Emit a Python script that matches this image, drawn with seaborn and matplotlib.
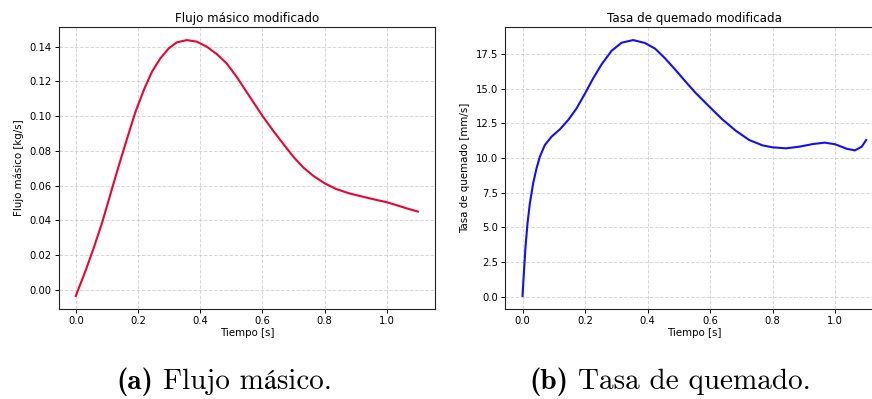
import matplotlib
matplotlib.use("Agg")
import matplotlib.pyplot as plt
from matplotlib.offsetbox import TextArea, HPacker, AnnotationBbox
import seaborn as sns
import pandas as pd

# Mass flow vs time
t_flujo = [0.0, 0.032, 0.0587, 0.0853, 0.112, 0.1387, 0.165, 0.192, 0.2187, 0.245,
           0.272, 0.2987, 0.325, 0.357, 0.389, 0.421, 0.453, 0.485, 0.517, 0.56,
           0.6, 0.635, 0.668, 0.7, 0.7316, 0.7636, 0.8, 0.8385, 0.881, 0.924,
           0.967, 1.0, 1.031, 1.063, 1.1]
flujo = [-0.0036, 0.0112, 0.0246, 0.039, 0.0554, 0.0717, 0.0871, 0.1025, 0.115, 0.1256,
         0.1333, 0.139, 0.1425, 0.1438, 0.1429, 0.14, 0.1358, 0.1304, 0.1227, 0.111,
         0.1002, 0.0915, 0.0838, 0.0765, 0.0704, 0.0656, 0.0613, 0.0579, 0.0554, 0.0535,
         0.0517, 0.0504, 0.0487, 0.0469, 0.045]

# Burn rate vs time
t_tasa = [0.0, 0.0043, 0.0096, 0.016, 0.0235, 0.034, 0.0448, 0.0555, 0.0715, 0.0928,
          0.1195, 0.146, 0.1728, 0.2, 0.226, 0.253, 0.285, 0.3168, 0.354, 0.3915,
          0.4237, 0.456, 0.488, 0.52, 0.553, 0.6, 0.639, 0.682, 0.725, 0.768,
          0.8, 0.843, 0.886, 0.929, 0.967, 1.0, 1.0366, 1.063, 1.085, 1.099]
tasa = [0.05, 1.68, 3.6, 5.29, 6.73, 8.17, 9.25, 10.1, 10.94, 11.54,
        12.07, 12.74, 13.58, 14.66, 15.75, 16.76, 17.74, 18.32, 18.51, 18.3,
        17.9, 17.19, 16.39, 15.55, 14.71, 13.65, 12.79, 11.97, 11.3, 10.91,
        10.77, 10.7, 10.82, 11.01, 11.11, 10.99, 10.67, 10.55, 10.82, 11.3]

titulos = ["Flujo másico modificado", "Tasa de quemado modificada"]
etiquetas_y = ["Flujo másico [kg/s]", "Tasa de quemado [mm/s]"]
etiqueta_x = "Tiempo [s]"
letras = ["(a)", "(b)"]
subtitulos = ["Flujo másico.", "Tasa de quemado."]

plt.rcParams["font.family"] = ["DejaVu Sans"]

df_flujo = pd.DataFrame({"t": t_flujo, "v": flujo})
df_tasa = pd.DataFrame({"t": t_tasa, "v": tasa})

fig = plt.figure(figsize=(8.72, 3.99), dpi=100)
ax1 = fig.add_axes([0.0673, 0.2263, 0.4315, 0.7053])
ax2 = fig.add_axes([0.5795, 0.2263, 0.4335, 0.7053])

series = [(ax1, df_flujo, "#e8062f"), (ax2, df_tasa, "#1010f0")]
for i, (ax, df, color) in enumerate(series):
    sns.lineplot(data=df, x="t", y="v", ax=ax, color=color, linewidth=1.5, sort=False)
    ax.set_title(titulos[i], fontsize=8.6, pad=4)
    ax.set_xlabel(etiqueta_x, fontsize=7.4, labelpad=2)
    ax.set_ylabel(etiquetas_y[i], fontsize=7.4, labelpad=4)
    ax.tick_params(labelsize=7.2, length=3, width=0.7, pad=2)
    ax.grid(True, linestyle="--", color="#b0b0b0", alpha=0.5, linewidth=0.7)
    for s in ax.spines.values():
        s.set_linewidth(0.8)
        s.set_color("#222222")
    ax.set_xticks([0.0, 0.2, 0.4, 0.6, 0.8, 1.0])

ax1.set_yticks([0.0, 0.02, 0.04, 0.06, 0.08, 0.10, 0.12, 0.14])
ax1.set_yticklabels([f"{v:.2f}" for v in ax1.get_yticks()])
ax2.set_yticks([0.0, 2.5, 5.0, 7.5, 10.0, 12.5, 15.0, 17.5])
ax2.set_yticklabels([f"{v:.1f}" for v in ax2.get_yticks()])
for ax in (ax1, ax2):
    ax.set_xticklabels([f"{v:.1f}" for v in ax.get_xticks()])

# Sub-figure captions: bold letter followed by the roman caption text
for letra, texto, xc in zip(letras, subtitulos, [0.257, 0.768]):
    parte_a = TextArea(letra, textprops=dict(family=["cmb10"], size=21))
    parte_b = TextArea(texto, textprops=dict(family=["cmr10", "STIXGeneral"], size=21))
    caja = HPacker(children=[parte_a, parte_b], align="baseline", pad=0, sep=7)
    ab = AnnotationBbox(caja, (xc, 0.044), xycoords="figure fraction",
                        box_alignment=(0.5, 0.5), frameon=False)
    fig.add_artist(ab)

fig.savefig("out.png", dpi=100)
